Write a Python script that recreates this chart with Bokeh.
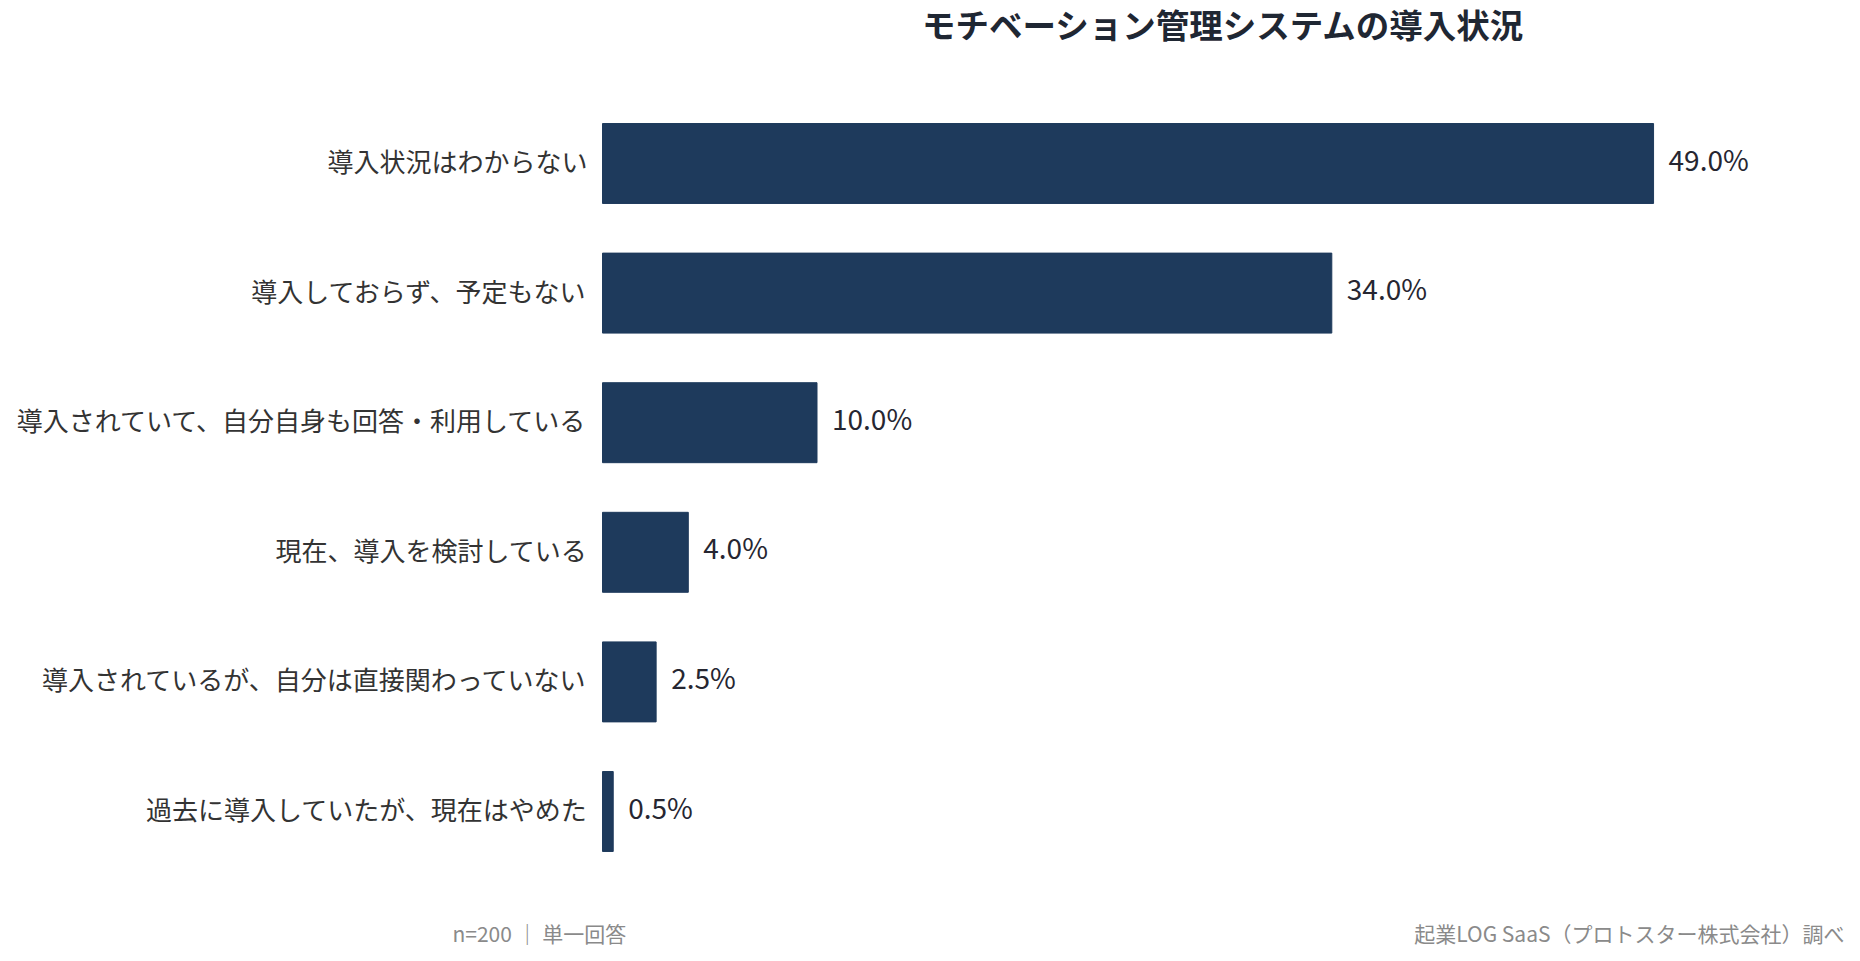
from bokeh.plotting import figure
from bokeh.models import Range1d, Label, ColumnDataSource
from bokeh.core.properties import value
from bokeh.embed import file_html
from bokeh.resources import INLINE

categories = [
    "導入状況はわからない",
    "導入しておらず、予定もない",
    "導入されていて、自分自身も回答・利用している",
    "現在、導入を検討している",
    "導入されているが、自分は直接関わっていない",
    "過去に導入していたが、現在はやめた",
]
values = [49.0, 34.0, 10.0, 4.0, 2.5, 0.5]
value_labels = ["49.0%", "34.0%", "10.0%", "4.0%", "2.5%", "0.5%"]
title_text = "モチベーション管理システムの導入状況"
note_left = "n=200 ｜ 単一回答"
note_right = "起業LOG SaaS（プロトスター株式会社）調べ"

FONT = "Noto Sans CJK JP"
BAR = "#1e3a5c"

idx = list(range(len(categories)))
zeros = [0] * len(categories)
src = ColumnDataSource(dict(y=idx, v=values, lab=value_labels, cat=categories, z=zeros))

W, H = 1860, 961
x0_px = 602          # pixel of value 0
px_per = 21.45       # pixels per percent
right_px = 1844      # right edge of chart area
top_c, step = 163.0, 129.6
x_start = -x0_px / px_per
x_end = (W - x0_px) / px_per
x_right = (right_px - x0_px) / px_per
y_top = -top_c / step
y_bot = (H - top_c) / step

def ypix(py):
    return (py - top_c) / step

def xpix(px):
    return (px - x0_px) / px_per

p = figure(width=W, height=H, output_backend="svg", toolbar_location=None,
           x_range=Range1d(x_start, x_end), y_range=Range1d(y_bot, y_top),
           min_border_left=0, min_border_right=0,
           min_border_top=0, min_border_bottom=0)
p.outline_line_color = None
p.grid.visible = False
p.axis.visible = False
p.background_fill_color = "white"
p.border_fill_color = "white"

p.hbar(y="y", right="v", left=0, height=0.617, color=BAR, source=src)

p.text(x="v", y="y", text="lab", source=src, x_offset=15, y_offset=-5,
       text_baseline="middle", text_align="left", text_font=value(FONT),
       text_font_size="28px", text_color="#262631")

p.text(x="z", y="y", text="cat", source=src, x_offset=-15, y_offset=-3,
       text_baseline="middle", text_align="right", text_font=value(FONT),
       text_font_size="26px", text_color="#333333")

p.add_layout(Label(x=(x_right) / 2, y=ypix(23), text=title_text,
                   text_font=FONT, text_font_size="33.5px", text_font_style="bold",
                   text_color="#1f2733", text_align="center", text_baseline="middle"))
p.add_layout(Label(x=xpix(452), y=ypix(932), text=note_left,
                   text_font=FONT, text_font_size="21px", text_color="#8a8a8a",
                   text_align="left", text_baseline="middle"))
p.add_layout(Label(x=x_right, y=ypix(932), text=note_right,
                   text_font=FONT, text_font_size="21px", text_color="#8a8a8a",
                   text_align="right", text_baseline="middle"))

open("out.html", "w").write(file_html(p, INLINE))
